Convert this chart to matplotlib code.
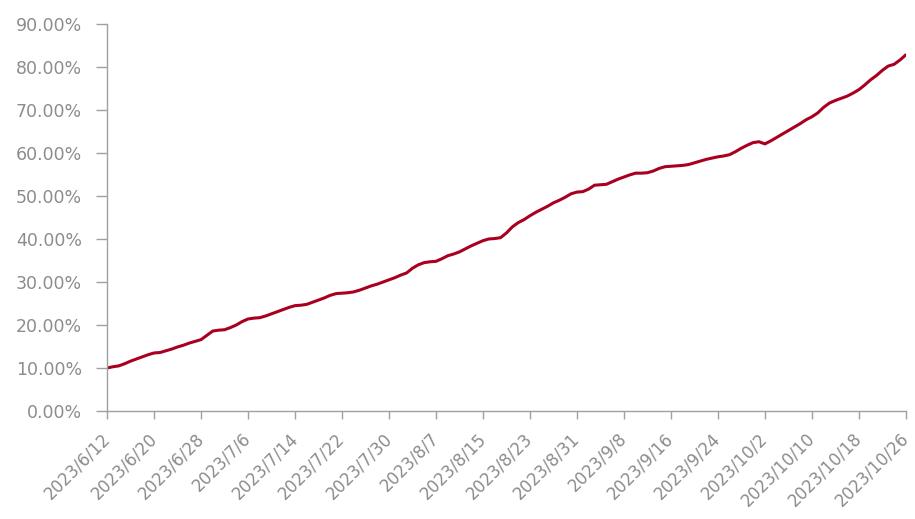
import matplotlib
matplotlib.use("Agg")
import matplotlib.pyplot as plt
import matplotlib.ticker as mticker
import pandas as pd

start_date = "2023-06-12"
end_date = "2023-10-26"
values = [
    10.0, 10.3, 10.5, 11.0, 11.6, 12.1, 12.6, 13.1, 13.5, 13.6,
    14.0, 14.4, 14.9, 15.3, 15.8, 16.2, 16.6, 17.6, 18.6, 18.8,
    18.9, 19.4, 20.0, 20.8, 21.4, 21.6, 21.7, 22.1, 22.6, 23.1,
    23.6, 24.1, 24.5, 24.6, 24.8, 25.3, 25.8, 26.3, 26.9, 27.3,
    27.4, 27.5, 27.7, 28.1, 28.6, 29.1, 29.5, 30.0, 30.5, 31.0,
    31.6, 32.1, 33.2, 34.0, 34.5, 34.7, 34.8, 35.4, 36.1, 36.5,
    37.0, 37.7, 38.4, 39.0, 39.6, 40.0, 40.1, 40.3, 41.4, 42.8,
    43.8, 44.5, 45.4, 46.2, 46.9, 47.6, 48.4, 49.0, 49.7, 50.5,
    50.9, 51.0, 51.6, 52.5, 52.6, 52.7, 53.3, 53.9, 54.4, 54.9,
    55.3, 55.3, 55.4, 55.8, 56.4, 56.8, 56.9, 57.0, 57.1, 57.3,
    57.7, 58.1, 58.5, 58.8, 59.1, 59.3, 59.6, 60.3, 61.1, 61.8,
    62.4, 62.6, 62.1, 62.8, 63.6, 64.4, 65.2, 66.0, 66.8, 67.7,
    68.4, 69.3, 70.6, 71.6, 72.2, 72.7, 73.2, 73.9, 74.7, 75.8,
    77.0, 78.0, 79.2, 80.2, 80.6, 81.6, 82.8,
]
tick_labels = ["2023/6/12", "2023/6/20", "2023/6/28", "2023/7/6", "2023/7/14",
               "2023/7/22", "2023/7/30", "2023/8/7", "2023/8/15", "2023/8/23",
               "2023/8/31", "2023/9/8", "2023/9/16", "2023/9/24", "2023/10/2",
               "2023/10/10", "2023/10/18", "2023/10/26"]
y_ticks = [0, 10, 20, 30, 40, 50, 60, 70, 80, 90]

dates = pd.date_range(start_date, end_date, freq="D")
tick_dates = pd.to_datetime(tick_labels, format="%Y/%m/%d")

fig = plt.figure(figsize=(9.15, 5.19), dpi=100)
ax = fig.add_axes([0.117, 0.208, 0.873, 0.746])

ax.plot(dates, values, color="#A8001E", lw=2.2, solid_capstyle="round")

ax.set_xlim(dates[0], dates[-1])
ax.set_ylim(0, 90)
ax.set_yticks(y_ticks)
ax.yaxis.set_major_formatter(mticker.FuncFormatter(lambda v, p: f"{v:.2f}%"))
ax.set_xticks(tick_dates)
ax.set_xticklabels(tick_labels, rotation=45, ha="right", va="center",
                   rotation_mode="anchor")

gray = "#A0A0A0"
txt = "#8C8C8C"
for s in ["top", "right"]:
    ax.spines[s].set_visible(False)
for s in ["left", "bottom"]:
    ax.spines[s].set_color(gray)
    ax.spines[s].set_linewidth(1.0)
ax.tick_params(axis="both", colors=gray, width=1.0, direction="out")
ax.tick_params(axis="y", length=8, labelsize=12.5, labelcolor=txt, pad=10)
ax.tick_params(axis="x", length=6, labelsize=12, labelcolor=txt, pad=12)

fig.savefig("out.png", dpi=100, facecolor="white")
